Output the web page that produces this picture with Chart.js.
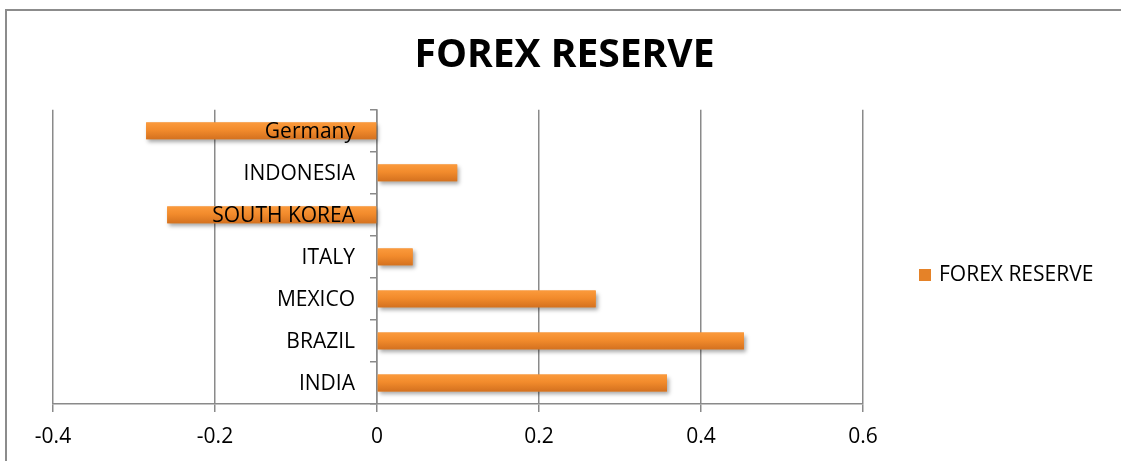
<!DOCTYPE html>
<html>
<head>
<meta charset="utf-8">
<title>FOREX RESERVE</title>
<script src="https://cdn.jsdelivr.net/npm/chart.js@4"></script>
<style>
  body { margin: 0; background: #fff; }
  canvas { display: block; }
</style>
</head>
<body>
<canvas id="forexChart" width="1121" height="461"></canvas>
<script>
// Excel order: first category sits at the bottom
const countries = ['INDIA', 'BRAZIL', 'MEXICO', 'ITALY', 'SOUTH KOREA', 'INDONESIA', 'Germany'];
const forexReserve = [0.358, 0.453, 0.270, 0.044, -0.259, 0.099, -0.285];
const xTicks = [-0.4, -0.2, 0, 0.2, 0.4, 0.6];
const seriesName = 'FOREX RESERVE';

const barColor = '#F08A2A';
const gridColor = '#8a8a8a';
const fontFamily = '"Open Sans", Lato, sans-serif';

// empty side axes, only used to reserve room left and right of the plot
const spacer = width => ({
  type: 'linear',
  afterFit: s => { s.width = width; },
  ticks: { display: false },
  grid: { display: false },
  border: { display: false }
});

// outer chart border, bar shading, category labels and the legend
const excelLook = {
  id: 'excelLook',
  beforeDraw(chart) {
    const ctx = chart.ctx;
    ctx.save();
    ctx.strokeStyle = '#8c8c8c';
    ctx.lineWidth = 2;
    ctx.strokeRect(6, 10, chart.width + 20, chart.height + 20);
    ctx.restore();
  },
  beforeDatasetsDraw(chart) {
    const ctx = chart.ctx;
    ctx.save();
    ctx.shadowColor = 'rgba(0, 0, 0, 0.35)';
    ctx.shadowBlur = 4;
    ctx.shadowOffsetX = 2;
    ctx.shadowOffsetY = 3;
  },
  afterDatasetsDraw(chart) {
    const ctx = chart.ctx;
    ctx.restore();
    const meta = chart.getDatasetMeta(0);
    meta.data.forEach(bar => {
      const { x, y, base, height } = bar.getProps(['x', 'y', 'base', 'height'], true);
      const left = Math.min(x, base);
      const top = y - height / 2;
      const grad = ctx.createLinearGradient(0, top, 0, top + height);
      grad.addColorStop(0, '#FB9A3C');
      grad.addColorStop(0.45, '#F28B2C');
      grad.addColorStop(1, '#D4711F');
      ctx.fillStyle = grad;
      ctx.fillRect(left, top, Math.abs(x - base), height);
    });

    // category labels sit just left of the zero line, over the bars
    const yScale = chart.scales.y;
    const zeroX = chart.scales.x.getPixelForValue(0);
    ctx.save();
    ctx.fillStyle = '#000';
    ctx.font = '21px ' + fontFamily;
    ctx.textAlign = 'right';
    ctx.textBaseline = 'middle';
    yScale.ticks.forEach((t, i) => {
      ctx.fillText(yScale.getLabelForValue(t.value), zeroX - 22, yScale.getPixelForTick(i) + 1);
    });
    ctx.restore();
  },
  afterDraw(chart) {
    const ctx = chart.ctx;
    const ds = chart.data.datasets[0];
    ctx.save();
    ctx.fillStyle = '#E58228';
    ctx.fillRect(919, 269, 12, 12);
    ctx.fillStyle = '#000';
    ctx.font = '21px ' + fontFamily;
    ctx.textBaseline = 'middle';
    ctx.fillText(ds.label, 939, 275);
    ctx.restore();
  }
};

new Chart(document.getElementById('forexChart'), {
  type: 'bar',
  data: {
    labels: countries,
    datasets: [{
      label: seriesName,
      data: forexReserve,
      xAxisID: 'x',
      yAxisID: 'y',
      backgroundColor: barColor,
      borderWidth: 0,
      categoryPercentage: 1,
      barPercentage: 0.4
    }]
  },
  options: {
    indexAxis: 'y',
    responsive: false,
    animation: false,
    layout: { padding: { left: 8, right: 0, top: 0, bottom: 0 } },
    plugins: {
      legend: { display: false },
      tooltip: { enabled: false },
      title: {
        display: true,
        text: seriesName,
        color: '#000',
        font: { family: fontFamily, size: 39, weight: 'bold', lineHeight: 1.2 },
        padding: { top: 32, bottom: 31 }
      }
    },
    scales: {
      y: {
        position: { x: 0 },
        reverse: true,
        grid: { drawOnChartArea: false, color: gridColor, lineWidth: 1.5, tickLength: 6 },
        border: { color: gridColor, width: 1.5 },
        ticks: { display: false }
      },
      x: {
        min: -0.4,
        max: 0.6,
        afterBuildTicks: scale => { scale.ticks = xTicks.map(v => ({ value: v })); },
        afterFit: scale => { scale.height = 57; },
        grid: { color: gridColor, lineWidth: 1.5, tickLength: 8 },
        border: { color: gridColor, width: 1.5 },
        ticks: {
          color: '#000',
          padding: 12,
          maxRotation: 0,
          font: { family: fontFamily, size: 21 },
          callback: v => String(Math.round(v * 10) / 10)
        }
      },
      padLeft: Object.assign(spacer(45), { position: 'left' }),
      padRight: Object.assign(spacer(258), { position: 'right' })
    }
  },
  plugins: [excelLook]
});
</script>
</body>
</html>
